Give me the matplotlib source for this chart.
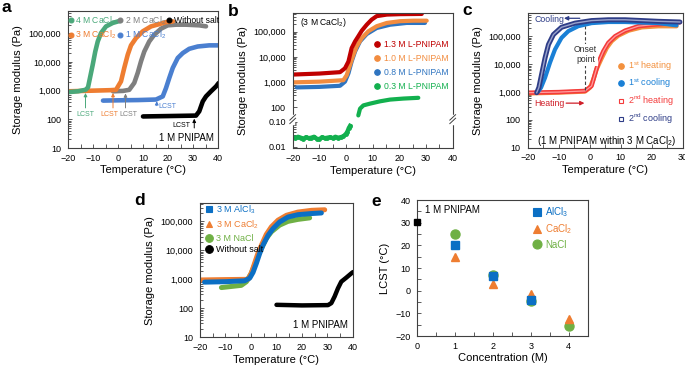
import numpy as np
import matplotlib
matplotlib.use('Agg')
import matplotlib.pyplot as plt
from matplotlib.ticker import FixedLocator, FuncFormatter, MultipleLocator, LogLocator, NullFormatter
from matplotlib.lines import Line2D

plt.rcParams['font.family'] = ['Liberation Sans', 'DejaVu Sans']
plt.rcParams['mathtext.fontset'] = 'custom'
plt.rcParams['mathtext.rm'] = 'Liberation Sans'
plt.rcParams['mathtext.it'] = 'Liberation Sans:italic'
plt.rcParams['mathtext.bf'] = 'Liberation Sans:bold'
plt.rcParams['mathtext.default'] = 'regular'

# ---------------- data: panel a (1 M PNIPAM in CaCl2) ----------------
a_4M_T = [-20, -16, -13, -12, -11.5, -10.1, -9.1, -8.1, -6.8, -4.8, -2.1, 0, 1]
a_4M_G = [890, 950, 1070, 1300, 2100, 8100, 23000, 52000, 102000, 174000, 230000, 260000, 270000]
a_3M_T = [-20, -10, -3, -0.8, 1.2, 2.5, 3.9, 5.2, 7.2, 9.9, 13.2, 16.5, 19.2, 22]
a_3M_G = [950, 1000, 1040, 1070, 2100, 6200, 18000, 38000, 68000, 117000, 174000, 209000, 245000, 260000]
a_2M_T = [-2, 2, 4.5, 6.5, 7.9, 9.2, 10.5, 12.5, 14.5, 17.2, 19.9, 23.2, 27.2, 32.5, 35.2]
a_2M_G = [950, 980, 1070, 1860, 4200, 10500, 23000, 52000, 89000, 145000, 190000, 200000, 200000, 190000, 175000]
a_1M_T = [-6, 0, 8, 15.2, 17.9, 19.2, 20.5, 21.9, 23.9, 25.9, 28.5, 31.9, 36.5, 40]
a_1M_G = [450, 460, 470, 490, 630, 1230, 2750, 6200, 13800, 20400, 28800, 34700, 38000, 38000]
a_ns_T = [10, 20, 31.2, 32.5, 33.9, 35.2, 37.2, 39.2, 40.3]
a_ns_G = [126, 130, 135, 190, 420, 630, 950, 1400, 1860]
a_lcst_T = [-13, -2, 3, 15.5, 30.5]
a_labels = ['4 M CaCl$_2$', '3 M CaCl$_2$', '2 M CaCl$_2$', '1 M CaCl$_2$', 'Without salt']

# ---------------- data: panel b (3 M CaCl2, L-PNIPAM) ----------------
b_13_T = [-20.4, -10, -2.25, -0.4, 0.9, 2.1, 3.4, 4.6, 5.9, 7.75, 9.6, 11.5, 15.3, 20.3, 28.4]
b_13_G = [2000, 2200, 2500, 3550, 6600, 22400, 41700, 66000, 110000, 190000, 302000, 417000, 480000, 500000, 510000]
b_10_T = [-20.4, -10, -1, 0.25, 1.5, 2.75, 4.0, 5.9, 8.4, 11.5, 15.3, 20.3, 25.3, 30.25]
b_10_G = [980, 1050, 1200, 1900, 4800, 12000, 26000, 56000, 105000, 166000, 224000, 263000, 275000, 275000]
b_08_T = [-18.5, -10, -2.25, -0.4, 0.9, 2.1, 3.4, 5.25, 7.75, 11.5, 16.5, 22.75, 29.6]
b_08_G = [620, 650, 720, 1050, 2240, 6600, 16600, 41700, 81000, 141000, 190000, 224000, 224000]
b_03lo_T = [-20, -19, -18, -17, -16, -15, -14, -13, -12, -11, -10, -9, -8, -7, -6, -5, -4, -3, -2, -1, 0, 0.5, 1, 1.5]
b_03lo_G = [0.024, 0.022, 0.025, 0.023, 0.021, 0.024, 0.022, 0.023, 0.025, 0.021, 0.020, 0.024, 0.022,
            0.023, 0.024, 0.022, 0.025, 0.023, 0.024, 0.026, 0.033, 0.040, 0.055, 0.068]
b_03hi_T = [4.6, 5.25, 6.5, 9, 12.75, 16.5, 21.5, 27.1]
b_03hi_G = [48, 89, 120, 141, 174, 204, 224, 240]
b_labels = ['1.3 M L-PNIPAM', '1.0 M L-PNIPAM', '0.8 M L-PNIPAM', '0.3 M L-PNIPAM']

# ---------------- data: panel c (heating / cooling cycles) ----------------
c_h1_T = [-20, -10, -1.5, 0.1, 1.2, 2.2, 3.9, 5.5, 7.1, 9.2, 12.5, 16.8, 22.1, 28]
c_h1_G = [900, 960, 1050, 1450, 2900, 6600, 17000, 39000, 68000, 107000, 162000, 214000, 234000, 234000]
c_h2_T = [-20, -10, -1.5, 0.6, 1.7, 2.8, 4.4, 6.0, 8.2, 11.4, 15.7, 20, 25.4, 29.1]
c_h2_G = [950, 1000, 1100, 1660, 4400, 11500, 29500, 59000, 102000, 162000, 234000, 263000, 288000, 324000]
c_c1_T = [28, 22.1, 11.4, 6, 0.6, -3.7, -6.9, -9.1, -11.2, -12.8, -14.4, -15.7, -16.6]
c_c1_G = [251000, 302000, 331000, 331000, 302000, 234000, 155000, 89000, 34000, 11500, 3300, 1450, 1050]
c_c2_T = [29.1, 22.1, 11.4, 6, 0.6, -4.7, -9.1, -11.7, -13.3, -14.4, -15.5, -16.4, -17.1]
c_c2_G = [331000, 350000, 398000, 398000, 372000, 302000, 214000, 117000, 51000, 17000, 4400, 1450, 950]
c_labels = ['1$^{st}$ heating', '1$^{st}$ cooling', '2$^{nd}$ heating', '2$^{nd}$ cooling']

# ---------------- data: panel d (different salts) ----------------
d_Al_T = [-18.2, -10, -2.5, -0.5, 0.8, 2.1, 3.4, 4.7, 6.7, 8.6, 11.2, 14.5, 18.4, 23.7, 27.6]
d_Al_G = [800, 830, 890, 1100, 1740, 3550, 7800, 15100, 33000, 56000, 95000, 141000, 170000, 186000, 195000]
d_Ca_T = [-20, -10, -1.2, 0.1, 1.4, 2.7, 4.1, 6.0, 8.0, 10.6, 13.9, 18.4, 23.7, 28.9]
d_Ca_G = [950, 980, 1000, 1620, 3550, 7800, 15100, 35500, 65000, 110000, 162000, 209000, 240000, 251000]
d_Na_T = [-11.6, -3.8, -1.8, 0.1, 1.4, 2.7, 4.1, 6.0, 8.0, 11.2, 14.5, 18.4, 23.0]
d_Na_G = [520, 620, 830, 1620, 3100, 6500, 11700, 25700, 43700, 74000, 100000, 117000, 132000]
d_ns_T = [10, 20, 30.2, 31.5, 32.8, 34.1, 35.4, 37.4, 39.4, 40]
d_ns_G = [132, 126, 129, 151, 257, 490, 830, 1150, 1620, 1780]
d_labels = ['3 M AlCl$_3$', '3 M CaCl$_2$', '3 M NaCl', 'Without salt']

# ---------------- data: panel e (LCST vs concentration) ----------------
e_0_c = [0]
e_0_L = [30.5]
e_Al_c = [1, 2, 3]
e_Al_L = [20, 6.5, -4]
e_Ca_c = [1, 2, 3, 4]
e_Ca_L = [15, 3, -1.5, -12.5]
e_Na_c = [1, 2, 3, 4]
e_Na_L = [25, 7, -4.5, -15.5]
e_labels = ['AlCl$_3$', 'CaCl$_2$', 'NaCl']

# ---------------- colours ----------------
GREEN_A = '#4aa87a'; ORANGE = '#ee7d31'; GRAY = '#7f7f7f'; BLUE_A = '#4a7fd0'; BLACK = '#000000'
RED_B = '#c00000'; ORANGE_B = '#f28c3f'; BLUE_B = '#2e74c0'; GREEN_B = '#12b04e'
ORANGE_C = '#f3913e'; BLUE_C = '#1a80d6'; RED_C = '#f43b3b'; NAVY_C = '#2e3d87'
BLUE_D = '#0b6fc4'; ORANGE_D = '#ee7d31'; GREEN_D = '#6fb044'

W, H = 685, 371
fig = plt.figure(figsize=(W / 100, H / 100), dpi=100)


def add_ax(l, t, r, b):
    return fig.add_axes([l / W, 1 - b / H, (r - l) / W, (b - t) / H])


comma = FuncFormatter(lambda v, p: f'{v:,.0f}')


def style(ax):
    for s in ax.spines.values():
        s.set_linewidth(0.8)
        s.set_color('#404040')
    ax.tick_params(which='both', direction='in', labelsize=6.5, width=0.6, color='#404040')
    ax.tick_params(axis='x', which='both', length=3, pad=4)
    ax.tick_params(axis='y', which='major', length=3, pad=5)
    ax.tick_params(axis='y', which='minor', length=2)


def log_axis(ax, top):
    ax.set_yscale('log')
    ax.set_ylim(10, top)
    ax.yaxis.set_major_locator(LogLocator(base=10, numticks=12))
    ax.yaxis.set_minor_locator(LogLocator(base=10, subs=np.arange(2, 10), numticks=12))
    ax.yaxis.set_major_formatter(comma)
    ax.yaxis.set_minor_formatter(NullFormatter())


def temp_axis(ax, lo, hi):
    ax.set_xlim(lo, hi)
    ax.xaxis.set_major_locator(MultipleLocator(10))
    ax.xaxis.set_minor_locator(MultipleLocator(5))
    ax.set_xlabel('Temperature (°C)', fontsize=8, labelpad=2)
    ax.set_ylabel('Storage modulus (Pa)', fontsize=8, labelpad=4)


def dot(c, m='o', ms=3.5, mfc=None):
    return Line2D([], [], ls='none', marker=m, color=c, ms=ms, mfc=mfc if mfc else c, mec=c, mew=0.8)


# ======================= panel a =======================
axA = add_ax(68, 11, 218, 148)
style(axA)
log_axis(axA, 6.0e5)
temp_axis(axA, -20, 40)
lw = 3.3
axA.plot(a_ns_T, a_ns_G, color=BLACK, lw=lw, solid_capstyle='round')
axA.plot(a_1M_T, a_1M_G, color=BLUE_A, lw=lw, solid_capstyle='round')
axA.plot(a_2M_T, a_2M_G, color=GRAY, lw=lw, solid_capstyle='round')
axA.plot(a_3M_T, a_3M_G, color=ORANGE, lw=lw, solid_capstyle='round')
axA.plot(a_4M_T, a_4M_G, color=GREEN_A, lw=lw, solid_capstyle='round')

lcst_cols = [GREEN_A, ORANGE, GRAY, BLUE_A, BLACK]
arrow_head = [830, 830, 800, 430, 105]
arrow_tail = [250, 250, 250, 300, 50]
for T, c, hd, tl in zip(a_lcst_T, lcst_cols, arrow_head, arrow_tail):
    axA.annotate('', xy=(T, hd), xytext=(T, tl),
                 arrowprops=dict(arrowstyle='-|>', color=c, lw=0.7, mutation_scale=5, shrinkA=0, shrinkB=0))
axA.text(-13, 150, 'LCST', color=GREEN_A, fontsize=5, ha='center', va='center')
axA.text(-3.5, 150, 'LCST', color=ORANGE, fontsize=5, ha='center', va='center')
axA.text(4.3, 150, 'LCST', color=GRAY, fontsize=5, ha='center', va='center')
axA.text(16.2, 270, 'LCST', color=BLUE_A, fontsize=5, ha='left', va='center')
axA.text(25.5, 62, 'LCST', color=BLACK, fontsize=5, ha='center', va='center')
axA.text(27.2, 23, '1 M PNIPAM', fontsize=7, ha='center', va='center')

hA = [dot(c) for c in [GREEN_A, ORANGE, GRAY, BLUE_A, BLACK]]
legA = axA.legend(hA, a_labels, ncol=3, loc='upper left', bbox_to_anchor=(0.0, 0.975),
                  frameon=False, fontsize=6.2, handlelength=0.6, handletextpad=0.25,
                  columnspacing=0.12, labelspacing=0.2, borderpad=0, borderaxespad=0,
                  labelcolor=[GREEN_A, ORANGE, GRAY, BLUE_A, BLACK])

# ======================= panel b (broken log axis) =======================
B_LO_MAX, B_HI_MIN, B_OFF = 0.12, 35.0, 2.44
_bx = [-10.0, np.log10(B_LO_MAX), np.log10(B_HI_MIN), 10.0]
_by = [-10.0 + B_OFF, np.log10(B_LO_MAX) + B_OFF, np.log10(B_HI_MIN), 10.0]


def b_fwd(v):
    L = np.log10(np.clip(np.asarray(v, dtype=float), 1e-12, None))
    return np.interp(L, _bx, _by)


def b_inv(t):
    return 10 ** np.interp(np.asarray(t, dtype=float), _by, _bx)


axB = add_ax(292.7, 13.3, 452.7, 148.5)
style(axB)
axB.set_yscale('function', functions=(b_fwd, b_inv))
axB.set_ylim(0.0085, 5.4e5)
b_major = [0.01, 0.1, 100, 1000, 10000, 100000]
b_major_lab = ['0.01', '0.10', '100', '1,000', '10,000', '100,000']
b_minor = [k * 0.01 for k in range(2, 10)] + [k * 10 ** e for e in (2, 3, 4) for k in range(2, 10)] + [2e5, 3e5, 4e5, 5e5]
axB.set_yticks(b_major)
axB.set_yticklabels(b_major_lab)
axB.yaxis.set_minor_locator(FixedLocator(b_minor))
axB.yaxis.set_minor_formatter(NullFormatter())
temp_axis(axB, -20, 40)
lwb = 3.0
axB.plot(b_03lo_T, b_03lo_G, color=GREEN_B, lw=lwb, marker='o', ms=2.5)
axB.plot(b_03hi_T, b_03hi_G, color=GREEN_B, lw=lwb, solid_capstyle='round')
axB.plot(b_08_T, b_08_G, color=BLUE_B, lw=lwb, solid_capstyle='round')
axB.plot(b_10_T, b_10_G, color=ORANGE_B, lw=lwb, solid_capstyle='round')
axB.plot(b_13_T, b_13_G, color=RED_B, lw=lwb, solid_capstyle='round')

# break marks on both vertical spines
tb0, tb1 = b_fwd(0.0085), b_fwd(5.4e5)
yb = (b_fwd(3.0) - tb0) / (tb1 - tb0)
for xs in (0.0, 1.0):
    axB.plot([xs, xs], [yb - 0.025, yb + 0.025], color='white', lw=2.5, transform=axB.transAxes,
             clip_on=False, zorder=6)
    for off in (-0.013, 0.013):
        axB.plot([xs - 0.018, xs + 0.018], [yb + off - 0.02, yb + off + 0.02], color='#404040', lw=0.7,
                 transform=axB.transAxes, clip_on=False, zorder=7)
axB.text(0.045, 0.93, '(3 M CaCl$_2$)', transform=axB.transAxes, fontsize=6.2, ha='left', va='center')
hB = [dot(c, ms=4) for c in [RED_B, ORANGE_B, BLUE_B, GREEN_B]]
axB.legend(hB, b_labels, loc='upper left', bbox_to_anchor=(0.51, 0.80), frameon=False, fontsize=6.2,
           handlelength=0.6, handletextpad=0.5, labelspacing=0.55, borderpad=0, borderaxespad=0,
           labelcolor=[RED_B, ORANGE_B, BLUE_B, GREEN_B])

# ======================= panel c =======================
axC = add_ax(527.7, 13.3, 682.7, 147.7)
style(axC)
log_axis(axC, 6.8e5)
temp_axis(axC, -20, 30)
axC.plot(c_h1_T, c_h1_G, color=ORANGE_C, lw=3.2, solid_capstyle='round')
axC.plot(c_h2_T, c_h2_G, color=RED_C, lw=3.2, solid_capstyle='round')
axC.plot(c_h2_T, c_h2_G, color='#ff9e9e', lw=0.9)
axC.plot(c_c1_T, c_c1_G, color=BLUE_C, lw=3.0, solid_capstyle='round')
axC.plot(c_c2_T, c_c2_G, color=NAVY_C, lw=3.6, solid_capstyle='round')
axC.plot(c_c2_T, c_c2_G, color='#9aa3cc', lw=1.0)
axC.plot([-1.4, -1.4], [1150, 2.3e5], color='#404040', lw=0.8, ls=(0, (3, 2)))
axC.text(-1.4, 2.2e4, 'Onset\npoint', fontsize=6.2, ha='center', va='center', color='#303030',
         linespacing=1.2, bbox=dict(facecolor='white', edgecolor='none', pad=1.0))
axC.text(-17.9, 4.1e5, 'Cooling', color=NAVY_C, fontsize=6.3, ha='left', va='center')
axC.annotate('', xy=(-8.3, 4.5e5), xytext=(-3.2, 4.5e5),
             arrowprops=dict(arrowstyle='-|>', color=NAVY_C, lw=0.9, mutation_scale=6, shrinkA=0, shrinkB=0))
axC.text(-17.9, 400, 'Heating', color='#d0202a', fontsize=6.3, ha='left', va='center')
axC.annotate('', xy=(-1.7, 400), xytext=(-7.6, 400),
             arrowprops=dict(arrowstyle='-|>', color='#d0202a', lw=0.9, mutation_scale=6, shrinkA=0, shrinkB=0))
axC.text(0.51, 0.05, '(1 M PNIPAM within 3 M CaCl$_2$)', transform=axC.transAxes, fontsize=7,
         ha='center', va='center')
hC = [dot(ORANGE_C, ms=4), dot(BLUE_C, ms=4), dot(RED_C, m='s', ms=3.5, mfc='white'),
      dot(NAVY_C, m='s', ms=3.5, mfc='white')]
axC.legend(hC, c_labels, loc='upper left', bbox_to_anchor=(0.585, 0.66), frameon=False, fontsize=6.5,
           handlelength=0.6, handletextpad=0.5, labelspacing=0.4, borderpad=0, borderaxespad=0,
           labelcolor=[ORANGE_C, BLUE_C, RED_C, NAVY_C])

# ======================= panel d =======================
axD = add_ax(200, 203.3, 353, 337.3)
style(axD)
log_axis(axD, 4.2e5)
temp_axis(axD, -20, 40)
axD.plot(d_ns_T, d_ns_G, color=BLACK, lw=3.2, solid_capstyle='round')
axD.plot(d_Na_T, d_Na_G, color=GREEN_D, lw=3.6, solid_capstyle='round')
axD.plot(d_Ca_T, d_Ca_G, color=ORANGE_D, lw=3.6, solid_capstyle='round')
axD.plot(d_Al_T, d_Al_G, color=BLUE_D, lw=3.6, solid_capstyle='round')
axD.text(0.785, 0.09, '1 M PNIPAM', transform=axD.transAxes, fontsize=7, ha='center', va='center')
hD = [dot(BLUE_D, 's', 5), dot(ORANGE_D, '^', 5), dot(GREEN_D, 'o', 5.5), dot(BLACK, 'o', 5.5)]
axD.legend(hD, d_labels, loc='upper left', bbox_to_anchor=(0.03, 1.0), frameon=False, fontsize=6.5,
           handlelength=0.9, handletextpad=0.4, labelspacing=0.3, borderpad=0, borderaxespad=0,
           labelcolor=[BLUE_D, ORANGE_D, GREEN_D, BLACK])

# ======================= panel e =======================
axE = add_ax(417.3, 200, 587.7, 336)
style(axE)
axE.set_xlim(0, 4.5)
axE.set_ylim(-20, 40)
axE.xaxis.set_major_locator(MultipleLocator(1))
axE.xaxis.set_minor_locator(MultipleLocator(0.5))
axE.yaxis.set_major_locator(MultipleLocator(10))
axE.yaxis.set_minor_locator(MultipleLocator(5))
axE.tick_params(axis='y', which='minor', length=3)
axE.plot(e_Na_c, e_Na_L, ls='none', marker='o', ms=6.5, color=GREEN_D)
axE.plot(e_Ca_c, e_Ca_L, ls='none', marker='^', ms=6, color=ORANGE_D)
axE.plot(e_Al_c, e_Al_L, ls='none', marker='s', ms=5.5, color=BLUE_D)
axE.plot(e_0_c, e_0_L, ls='none', marker='s', ms=5, color=BLACK, clip_on=False, zorder=5)
axE.set_xlabel('Concentration (M)', fontsize=8, labelpad=2)
axE.set_ylabel('LCST (°C)', fontsize=8, labelpad=4)
axE.text(0.045, 0.93, '1 M PNIPAM', transform=axE.transAxes, fontsize=7, ha='left', va='center')
hE = [dot(BLUE_D, 's', 5.5), dot(ORANGE_D, '^', 6), dot(GREEN_D, 'o', 6.5)]
axE.legend(hE, e_labels, loc='upper left', bbox_to_anchor=(0.675, 0.96), frameon=False, fontsize=7,
           handlelength=0.9, handletextpad=0.4, labelspacing=0.35, borderpad=0, borderaxespad=0,
           labelcolor=[BLUE_D, ORANGE_D, GREEN_D])

# panel letters
for x, y, s in [(1, 12, 'a'), (228, 16, 'b'), (462, 15, 'c'), (134, 205, 'd'), (371, 205.5, 'e')]:
    fig.text(x / W, 1 - y / H, s, fontsize=12.5, fontweight='bold', ha='left', va='baseline')

fig.savefig('out.png', dpi=100)
